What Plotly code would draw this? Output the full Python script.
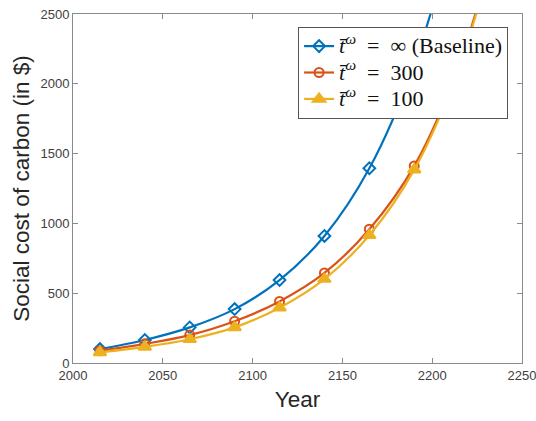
import plotly.graph_objects as go

years = [2015, 2040, 2065, 2090, 2115, 2140, 2165, 2190, 2215, 2240]
baseline = [100, 165, 255, 386, 594, 910, 1395, 2140, 3290, 5050]
t300 = [88, 137, 200, 299, 441, 645, 958, 1412, 2140, 3250]
t100 = [76, 115, 170, 255, 396, 601, 915, 1385, 2120, 3230]

labels = ["∞ (Baseline)", "300", "100"]
names = ['<span style="font-size:22px"><i>t̄</i><sup><i>ω</i></sup>  =  %s</span>' % s
         for s in labels]
colors = ["#0072BD", "#D95319", "#EDB120"]
symbols = ["diamond-open", "circle-open", "triangle-up"]
series = [baseline, t300, t100]

fig = go.Figure()
for name, col, sym, vals in zip(names, colors, symbols, series):
    fig.add_trace(go.Scatter(
        x=years, y=vals, name=name, mode="lines+markers",
        line=dict(color=col, width=2.2, shape="spline", smoothing=1),
        marker=dict(symbol=sym, size=9 if sym != "triangle-up" else 11,
                    color=col, line=dict(color=col, width=2)),
    ))

axis_col = "#8a8a8a"
common = dict(showline=True, linecolor=axis_col, linewidth=1, mirror="ticks",
              ticks="inside", ticklen=5, tickcolor=axis_col, showgrid=False,
              zeroline=False, ticklabeloverflow="allow", automargin=False,
              tickfont=dict(family="Liberation Sans", size=13, color="#404040"))

fig.update_xaxes(range=[2000, 2250], tickvals=[2000, 2050, 2100, 2150, 2200, 2250],
                 title=dict(text="Year", font=dict(family="Liberation Sans", size=22.5, color="#262626"),
                            standoff=9), **common)
fig.update_yaxes(range=[0, 2500], tickvals=[0, 500, 1000, 1500, 2000, 2500],
                 title=dict(text="Social cost of carbon (in $)",
                            font=dict(family="Liberation Sans", size=22.5, color="#262626"),
                            standoff=4), **common)

fig.update_layout(
    width=536, height=421,
    margin=dict(l=73, r=14, t=14, b=58),
    paper_bgcolor="white", plot_bgcolor="white",
    showlegend=True,
    legend=dict(x=0.969, y=0.963, xanchor="right", yanchor="top",
                bgcolor="white", bordercolor="#555555", borderwidth=1,
                font=dict(family="Liberation Serif", size=18, color="#111111"),
                tracegroupgap=0, itemwidth=30),
)

fig.write_html("out.html")
